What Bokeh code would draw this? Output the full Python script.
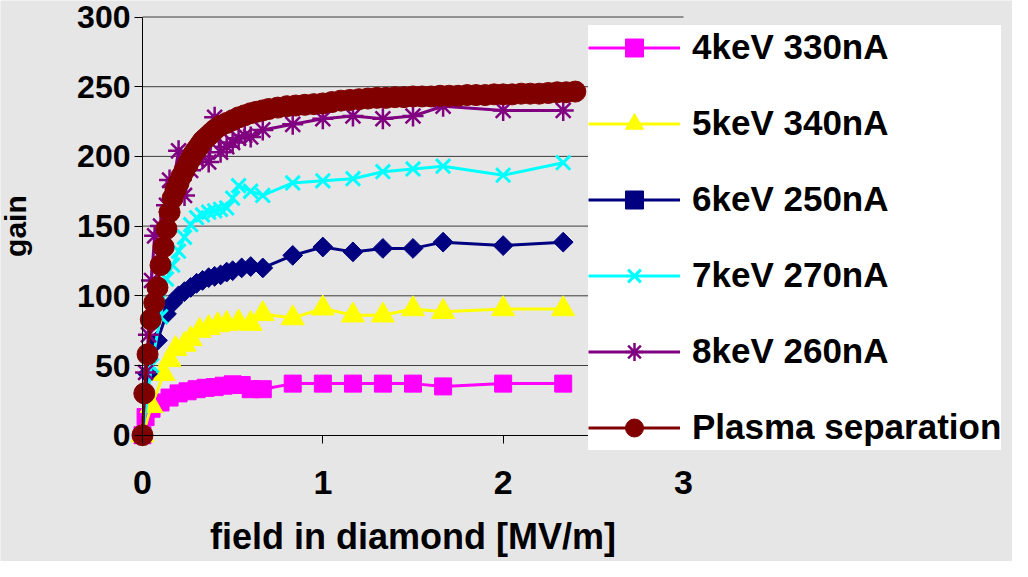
from bokeh.plotting import figure
from bokeh.models import Legend, LegendItem, FixedTicker, Range1d, Label
from bokeh.embed import file_html
from bokeh.resources import INLINE
import math

FONT = "Liberation Sans"
BG = "#e6e6e6"

# ---------------- data ----------------
x_ticks = [0, 1, 2, 3]
y_ticks = [0, 50, 100, 150, 200, 250, 300]
x_title = "field in diamond [MV/m]"
y_title = "gain"

labels = ["4keV 330nA", "5keV 340nA", "6keV 250nA", "7keV 270nA", "8keV 260nA", "Plasma separation"]

x_4kev = [0, 0.017, 0.05, 0.1, 0.15, 0.2, 0.25, 0.3, 0.35, 0.4, 0.45, 0.5, 0.55, 0.6, 0.667,
          0.833, 1.0, 1.167, 1.333, 1.5, 1.667, 2.0, 2.333]
y_4kev = [0, 13, 19, 23.5, 27, 30, 31.5, 33, 34, 34.5, 35.5, 36.5, 36, 33, 33,
          37, 37, 37, 37, 37, 35, 37, 37]

x_5kev = [0, 0.05, 0.117, 0.15, 0.183, 0.233, 0.267, 0.317, 0.367, 0.417, 0.467, 0.533, 0.6, 0.667,
          0.833, 1.0, 1.167, 1.333, 1.5, 1.667, 2.0, 2.333]
y_5kev = [0, 21, 44, 54, 62, 65, 69, 75, 77, 79, 80, 81, 80, 87,
          84, 91, 86, 86, 90.5, 88.5, 90.5, 90.5]

x_6kev = [0, 0.028, 0.083, 0.133, 0.167, 0.2, 0.233, 0.267, 0.3, 0.333, 0.367, 0.4, 0.433, 0.467,
          0.5, 0.55, 0.6, 0.667, 0.833, 1.0, 1.167, 1.333, 1.5, 1.667, 2.0, 2.333]
y_6kev = [0, 44, 68, 87, 95, 100, 103, 106, 109, 111, 113, 114, 115, 117,
          118, 120, 121, 120, 129, 135, 131.5, 134, 134, 138.5, 136, 138.5]

x_7kev = [0, 0.05, 0.1, 0.133, 0.167, 0.2, 0.233, 0.267, 0.3, 0.333, 0.367, 0.4, 0.433, 0.467,
          0.5, 0.533, 0.6, 0.667, 0.833, 1.0, 1.167, 1.333, 1.5, 1.667, 2.0, 2.333]
y_7kev = [0, 50, 85, 112, 122, 132, 142, 151, 156, 158, 160, 161, 162, 163,
          170, 179, 175, 172, 181, 182.5, 184, 189, 191, 193, 186.5, 195.5]

x_8kev = [0, 0.017, 0.033, 0.05, 0.067, 0.1, 0.133, 0.15, 0.167, 0.2, 0.233, 0.267, 0.3, 0.333,
          0.367, 0.4, 0.433, 0.467, 0.5, 0.533, 0.567, 0.6, 0.667, 0.833, 1.0, 1.167, 1.333,
          1.5, 1.667, 2.0, 2.333]
y_8kev = [0, 45, 72, 111, 143, 150, 165, 183, 178, 204, 172, 190, 198, 200,
          196, 228, 203, 207, 210, 213, 215, 214, 219, 223, 227, 229, 227,
          229, 236, 233, 233]

x_plasma = [0, 0.01, 0.028, 0.046, 0.065, 0.083, 0.1, 0.117, 0.133, 0.15,
            0.167, 0.183, 0.2, 0.217, 0.233, 0.25, 0.267, 0.283, 0.3, 0.317,
            0.333, 0.35, 0.367, 0.383, 0.4, 0.433, 0.467, 0.5, 0.533, 0.567,
            0.6, 0.633, 0.667, 0.7, 0.75, 0.8, 0.85, 0.9, 0.95, 1.0,
            1.05, 1.1, 1.15, 1.2, 1.25, 1.3, 1.35, 1.4, 1.45, 1.5,
            1.55, 1.6, 1.65, 1.7, 1.75, 1.8, 1.85, 1.9, 1.95, 2.0,
            2.05, 2.1, 2.15, 2.2, 2.25, 2.3, 2.35, 2.4]
y_plasma = [0, 30, 58, 83, 95, 106, 122, 135, 148, 160,
            170, 176, 181, 186, 190, 194, 198, 202, 205, 208,
            211, 213, 215, 217, 219, 222, 224, 226, 228, 229.5,
            231, 232, 233, 234, 235, 236, 236.5, 237, 237.5, 238,
            239, 240, 240.5, 241, 241.5, 242, 242, 242.5, 242.5, 243,
            243, 243, 243.5, 243.5, 243.5, 244, 244, 244, 244.5, 244.5,
            244.5, 245, 245, 245, 245.5, 246, 246, 246.5]

series_x = [x_4kev, x_5kev, x_6kev, x_7kev, x_8kev, x_plasma]
series_y = [y_4kev, y_5kev, y_6kev, y_7kev, y_8kev, y_plasma]
colors = ["#ff00ff", "#ffff00", "#000080", "#00ffff", "#800080", "#800000"]
markers = ["square", "triangle", "square", "x", "asterisk", "circle"]
marker_sizes = [17, 23, 14, 20, 21, 21]
marker_lw = [1, 1, 1, 3, 2.5, 1]
marker_angles = [0, 0, math.pi / 4, 0, 0, 0]

# ---------------- geometry ----------------
# The frame covers the whole canvas; axes are pinned at x=0 / y=0 and limited
# to the data span, so nothing (legend, markers at 0) gets clipped.
W, H = 1012, 561
X0_PX, X3_PX = 142.0, 683.0      # canvas x of field 0 and 3
Y0_PX, Y300_PX = 434.7, 16.5     # canvas y of gain 0 and 300
xu = (X3_PX - X0_PX) / 3.0
yu = (Y0_PX - Y300_PX) / 300.0
x_lo, x_hi = -X0_PX / xu, (W - X0_PX) / xu
y_lo, y_hi = -(H - Y0_PX) / yu, 300 + Y300_PX / yu

p = figure(width=W, height=H, output_backend="svg", toolbar_location=None,
           x_range=Range1d(x_lo, x_hi), y_range=Range1d(y_lo, y_hi),
           min_border=0, min_border_left=0, min_border_right=0,
           min_border_top=0, min_border_bottom=0)
p.background_fill_color = BG
p.border_fill_color = BG
p.outline_line_color = None
p.xgrid.grid_line_color = None
p.ygrid.grid_line_color = None

p.yaxis.ticker = FixedTicker(ticks=y_ticks)
p.xaxis.ticker = FixedTicker(ticks=x_ticks)
p.xaxis.bounds = (x_ticks[0], x_ticks[-1])
p.yaxis.bounds = (y_ticks[0], y_ticks[-1])
p.xaxis.fixed_location = 0
p.yaxis.fixed_location = 0

for ax in (p.xaxis[0], p.yaxis[0]):
    ax.axis_line_color = "black"
    ax.axis_line_width = 1
    ax.major_tick_line_color = "black"
    ax.minor_tick_line_color = None
    ax.major_tick_in = 0
    ax.major_tick_out = 8
    ax.major_label_text_font = FONT
    ax.major_label_text_font_style = "bold"
    ax.major_label_text_color = "black"
p.xaxis.major_label_text_font_size = "34px"
p.yaxis.major_label_text_font_size = "32px"
p.xaxis.major_label_standoff = 28
p.yaxis.major_label_standoff = 4

# axis titles, positioned like the reference
p.add_layout(Label(x=1.5, y=25, x_units="data", y_units="screen", text=x_title,
                   text_align="center", text_baseline="middle",
                   text_font=FONT, text_font_style="bold",
                   text_font_size="36px", text_color="black"))
p.add_layout(Label(x=15, y=150, x_units="screen", y_units="data", text=y_title,
                   angle=math.pi / 2, text_align="center", text_baseline="middle",
                   text_font=FONT, text_font_style="bold",
                   text_font_size="30px", text_color="black"))

# horizontal gridlines over the 0..3 span
g_y = y_ticks[1:]
p.segment(x0=[x_ticks[0]] * len(g_y), x1=[x_ticks[-1]] * len(g_y), y0=g_y, y1=g_y,
          line_color="#3c3c3c", line_width=1)

items = []
for lab, xs, ys, c, m, s, lw, a in zip(labels, series_x, series_y, colors, markers,
                                       marker_sizes, marker_lw, marker_angles):
    lr = p.line(xs, ys, line_color=c, line_width=3)
    sr = p.scatter(xs, ys, marker=m, size=s, angle=a, fill_color=c, line_color=c,
                   line_width=lw)
    items.append(LegendItem(label=lab, renderers=[lr, sr]))

# legend box: canvas x 588.., top at canvas y 24.5, 6 rows of 45 px + 5 gaps of 31 px
leg_h = 6 * 45 + 5 * 31
legend = Legend(items=items, location=(588, H - 24.5 - leg_h), orientation="vertical",
                background_fill_color="white", background_fill_alpha=1.0,
                border_line_color=None, padding=0, margin=0, spacing=31,
                glyph_width=92, glyph_height=45, label_height=45, label_standoff=12,
                label_text_font=FONT, label_text_font_style="bold",
                label_text_font_size="35px", label_text_color="black")
p.add_layout(legend)

open("out.html", "w").write(file_html(p, INLINE))
